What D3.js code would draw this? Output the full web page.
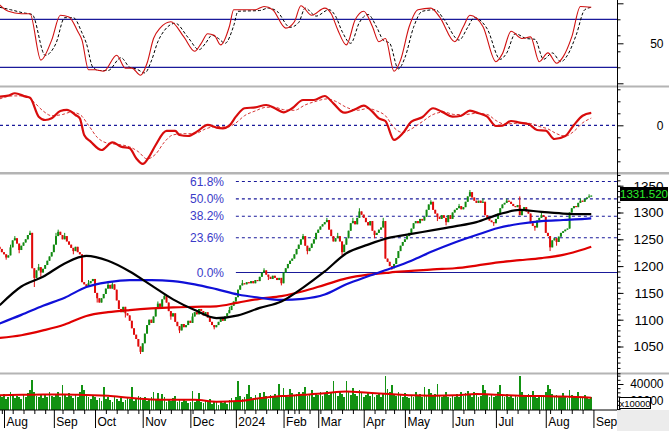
<!DOCTYPE html>
<html><head><meta charset="utf-8">
<script src="https://cdn.jsdelivr.net/npm/d3@7"></script>
<style>
html,body{margin:0;padding:0;background:#fff;}
svg{display:block;font-family:"Liberation Sans",Arial,sans-serif;}
</style></head><body>
<svg id="c" width="669" height="431"></svg>
<script>
// ---------------- DATA ----------------
const holidays = ["2023-09-01","2023-09-04","2024-01-01","2024-02-08","2024-02-09","2024-02-12","2024-02-13","2024-02-14","2024-04-18","2024-04-29","2024-04-30","2024-05-01","2024-09-02","2024-09-03"];
const monthNames = ["Jan","Feb","Mar","Apr","May","Jun","Jul","Aug","Sep","Oct","Nov","Dec"];

const firstOpen = 1236;
const closes = [
 1232,1226,1222,1216,1220,1235,1248,1252,1242,1230,
 1238,1244,1250,1258,1262,1196,1178,1192,1198,1188,
 1195,1202,1210,1218,1226,1240,1256,1264,1258,1250,
 1256,1246,1240,1234,1228,1236,1226,1222,1170,1166,
 1162,1168,1172,1176,1150,1140,1132,1140,1148,1158,
 1165,1158,1166,1156,1136,1120,1114,1124,1112,1108,
 1098,1084,1072,1064,1050,1040,1056,1074,1090,1100,
 1094,1106,1120,1130,1124,1138,1144,1132,1116,1106,
 1112,1096,1088,1080,1092,1086,1090,1098,1094,1106,
 1114,1110,1120,1116,1108,1114,1104,1096,1090,1086,
 1090,1096,1102,1098,1106,1112,1118,1126,1134,1142,
 1156,1164,1168,1166,1170,1168,1172,1168,1174,1172,
 1180,1188,1192,1184,1180,1176,1182,1178,1174,1178,
 1168,1188,1196,1204,1210,1214,1222,1232,1240,1250,
 1256,1238,1228,1234,1242,1250,1262,1268,1274,1278,
 1282,1286,1268,1256,1246,1252,1256,1246,1226,1240,
 1252,1266,1280,1284,1278,1290,1302,1296,1290,1282,
 1276,1284,1266,1258,1262,1268,1272,1284,1214,1208,
 1200,1196,1204,1215,1228,1238,1245,1250,1256,1262,
 1270,1280,1284,1280,1288,1285,1292,1305,1315,1320,
 1305,1298,1292,1288,1295,1290,1282,1295,1288,1300,
 1305,1308,1312,1306,1310,1320,1330,1338,1328,1322,
 1318,1322,1318,1320,1295,1290,1285,1282,1280,1288,
 1298,1308,1315,1318,1322,1320,1316,1312,1310,1314,
 1295,1305,1310,1302,1298,1280,1275,1272,1285,1290,
 1295,1292,1262,1256,1235,1248,1252,1245,1255,1262,
 1265,1268,1270,1300,1308,1312,1310,1318,1322,1320,
 1325,1328,1330,1331.52];
const highWicks = [[5,1240],[7,1256],[14,1266],[18,1204],[26,1262],[27,1268],[30,1262],[41,1174],[50,1170],[52,1170],[73,1134],[76,1148],[89,1112],[106,1124],[112,1174],[122,1196],[140,1260],[151,1290],[156,1262],[163,1290],[166,1308],[177,1290],[199,1323],[212,1316],[217,1342],[223,1326],[234,1326],[240,1330],[250,1300],[268,1326],[272,1334]];
const lowWicks = [[3,1212],[9,1224],[16,1161],[19,1180],[34,1222],[45,1132],[58,1104],[65,1036],[79,1100],[83,1075],[99,1082],[124,1174],[130,1164],[142,1222],[158,1220],[173,1252],[181,1193],[202,1284],[206,1276],[228,1275],[247,1266],[254,1228],[257,1238]];

const volumes = [
 26000,24000,28000,22000,25000,30000,27000,23000,26000,24000,
 22000,27000,25000,29000,33000,45000,30000,26000,24000,28000,
 23000,27000,25000,30000,26000,24000,28000,31000,25000,39000,
 27000,24000,29000,26000,23000,28000,25000,30000,39000,33000,
 28000,25000,22000,26000,24000,21000,23000,20000,37000,22000,
 25000,21000,19000,24000,22000,20000,23000,18000,21000,24000,
 22000,36000,20000,23000,26000,25000,21000,24000,20000,22000,
 25000,31000,22000,29000,21000,28000,24000,19000,22000,20000,
 23000,26000,18000,21000,19000,22000,20000,17000,19000,32000,
 18000,21000,29000,19000,17000,20000,18000,22000,16000,19000,
 18000,15000,20000,17000,19000,16000,21000,23000,20000,25000,
 43000,26000,22000,24000,28000,39000,25000,21000,27000,23000,
 29000,24000,30000,26000,22000,27000,25000,28000,24000,40000,
 26000,35000,27000,25000,34000,29000,26000,28000,31000,27000,
 30000,37000,26000,28000,33000,25000,29000,27000,31000,26000,
 28000,32000,27000,30000,43000,29000,26000,31000,28000,25000,
 43000,30000,27000,35000,28000,26000,33000,29000,25000,27000,
 30000,26000,28000,24000,27000,29000,25000,28000,49000,34000,
 30000,39000,28000,26000,31000,27000,24000,29000,25000,23000,
 27000,24000,30000,26000,28000,25000,36000,27000,34000,29000,
 26000,28000,40000,27000,24000,26000,30000,25000,23000,27000,
 25000,28000,24000,30000,26000,29000,32000,27000,25000,31000,
 28000,24000,26000,39000,33000,28000,25000,27000,24000,26000,
 30000,39000,27000,25000,28000,24000,26000,23000,27000,25000,
 49000,30000,26000,24000,28000,25000,32000,27000,23000,26000,
 24000,27000,31000,39000,34000,28000,25000,27000,24000,26000,
 29000,25000,23000,33000,27000,24000,26000,31000,25000,23000,
 27000,24000,22000,25000];

// moving averages sampled every 10 sessions
const maIdx   = [0,10,20,30,40,50,60,70,80,90,100,110,120,130,140,150,160,170,180,190,200,210,220,230,240,250,260,270,273];
const ma50    = [1127,1162,1180,1205,1219,1210,1190,1164,1138,1118,1103,1108,1122,1134,1160,1190,1224,1240,1253,1260,1267,1274,1282,1296,1305,1301,1298,1297,1297];
const ma100   = [1093,1109,1126,1141,1161,1170,1174,1174,1172,1166,1157,1147,1141,1137,1139,1147,1166,1181,1195,1210,1228,1244,1258,1271,1279,1284,1286,1288,1289];
const ma200   = [1066,1071,1080,1091,1107,1114,1118,1121,1123,1124,1125,1132,1139,1144,1153,1165,1177,1184,1188,1191,1194,1196,1201,1207,1211,1215,1221,1232,1236];
const volMA   = [26500,27000,27500,27500,26800,26000,23500,21500,21000,21000,18800,19500,23000,25500,27000,29000,31000,29500,28000,26500,26000,26500,28000,27000,26000,25500,25000,24000,23500];

// stochastic [session, value]
const stochK = [[0,98],[4,90],[10,87],[14,87],[19,29],[24,54],[28,85],[32,83],[36,65],[38,54],[41,17],[44,17],[48,15],[54,35],[58,19],[61,19],[65,10],[68,25],[71,56],[74,69],[79,77],[85,58],[90,40],[93,50],[96,62],[99,60],[102,48],[106,71],[108,92],[118,92],[122,96],[126,92],[132,69],[136,77],[139,97],[144,85],[150,94],[153,87],[156,67],[160,48],[164,79],[168,90],[172,71],[175,52],[178,56],[182,15],[185,29],[189,71],[193,92],[199,94],[203,83],[210,52],[214,71],[217,85],[223,71],[229,27],[232,37],[236,65],[241,56],[245,58],[249,27],[253,38],[257,25],[260,33],[264,58],[268,96],[273,95]];
const stochD = [[0,95],[5,92],[11,88],[15,86],[21,35],[26,50],[30,82],[34,82],[38,63],[40,50],[43,20],[46,16],[50,16],[56,32],[60,20],[63,18],[67,13],[70,28],[73,52],[76,66],[81,75],[87,57],[92,42],[95,50],[98,60],[101,56],[104,50],[108,72],[110,90],[120,91],[124,94],[128,90],[134,70],[138,76],[141,94],[146,84],[152,92],[155,84],[158,65],[162,50],[166,76],[170,86],[174,70],[177,54],[180,50],[184,18],[187,32],[191,70],[195,90],[201,92],[205,80],[212,54],[216,70],[219,82],[225,68],[231,30],[234,38],[238,62],[243,56],[247,55],[251,30],[255,38],[259,27],[262,35],[266,60],[270,92],[273,95]];

// MACD [session, value]
const macd = [[0,23.9],[4,24.7],[7,26.7],[12,23.9],[14,23.0],[18,7.2],[21,4.4],[24,5.8],[28,11.9],[31,12.8],[35,8.6],[37,5.8],[39,-8.1],[42,-13.6],[47,-20.6],[52,-14.2],[56,-17.8],[60,-19.2],[63,-27.5],[66,-32.2],[69,-26.1],[72,-16.4],[77,-4.7],[81,-4.7],[83,-8.1],[87,-8.9],[91,-5.3],[96,0.3],[100,-1.9],[103,-2.5],[106,-0.3],[109,7.2],[113,14.2],[118,15.0],[123,16.9],[127,14.2],[131,10.8],[135,14.2],[140,21.1],[145,21.1],[150,24.4],[154,18.3],[159,10.5],[164,13.3],[168,16.4],[172,11.4],[175,5.8],[178,3.6],[182,-12.2],[186,-6.7],[190,3.0],[195,6.7],[200,14.2],[204,11.4],[209,7.2],[213,8.0],[217,12.2],[221,10.0],[225,7.2],[229,-0.6],[232,-0.3],[236,3.6],[240,2.2],[244,1.1],[248,-3.9],[252,-4.4],[256,-11.4],[261,-8.9],[265,0.3],[269,8.0],[273,10.3]];
const macdSignal = [[0,22],[6,24.5],[12,24.5],[16,19],[20,12],[24,8],[29,9],[33,11],[37,9],[41,0],[45,-10],[50,-15],[55,-16],[60,-18],[64,-22],[68,-28],[72,-24],[76,-14],[80,-8],[85,-7],[90,-7],[95,-3],[100,-1],[105,-1.5],[109,2],[113,8],[118,12],[123,15],[127,15],[131,13],[136,12.5],[141,17],[146,20],[151,22],[155,20],[160,15],[165,12.5],[170,14],[174,12],[178,8],[182,-2],[186,-6],[190,-3],[195,3],[200,9],[205,11],[210,9],[215,9],[220,10],[225,9],[229,4],[233,1],[237,1.5],[241,2],[245,1.5],[249,-1],[253,-3],[257,-7],[261,-9],[265,-5],[269,2],[273,6]];

// Fibonacci retracement
const fibLabels = ["61.8%","50.0%","38.2%","23.6%","0.0%"];
const fibRatios = [0.618,0.5,0.382,0.236,0];
const fibBase = 1188, fibTop = 1463;
const fibStart = 109;

const priceTicks = [1050,1100,1150,1200,1250,1300,1350];
const stochTicks = [50];
const macdTicks = [0];
const volTicks = [20000,40000];
const lastLabel = "1331.520";

// ---------------- LAYOUT ----------------
const svg = d3.select("#c");
const AX = 617;
const step = 2.167, xOff = -0.33;
const x = d3.scaleLinear().domain([0, 273]).range([xOff, xOff + 273*step]);

const yS = d3.scaleLinear().domain([0,100]).range([83.3,3.3]);
const yM = d3.scaleLinear().domain([0,10]).range([125.3,113.3]);
const yP = d3.scaleLinear().domain([1050,1300]).range([346.5,212.5]);
const yV = d3.scaleLinear().domain([20000,40000]).range([400.7,384]);
const volBase = 409.5;
const fmt = d3.format("d");

// trading calendar
const days = [];
for (let t = Date.UTC(2023,6,28); t <= Date.UTC(2024,8,4); t += 86400000) {
  const d = new Date(t); const wd = d.getUTCDay();
  if (wd === 0 || wd === 6) continue;
  if (holidays.includes(d.toISOString().slice(0,10))) continue;
  days.push(d);
}
const monthIdx = [], weekIdx = [];
for (let i = 1; i < days.length; i++) {
  const a = days[i-1], b = days[i];
  if (a.getUTCMonth() !== b.getUTCMonth()) monthIdx.push(i);
  else if (b.getUTCDay() < a.getUTCDay() || (b - a) >= 7*86400000) weekIdx.push(i);
}

const defs = svg.append("defs");
function clip(id, y0, h) {
  defs.append("clipPath").attr("id", id).append("rect").attr("x",0).attr("y",y0).attr("width",AX).attr("height",h);
  return svg.append("g").attr("clip-path", `url(#${id})`);
}

// separators
[[85.5,2],[172,2.5],[372.5,2]].forEach(([y,h]) => {
  svg.append("rect").attr("x",0).attr("y",y).attr("width",669).attr("height",h).attr("fill","#b4b4b4");
});
svg.append("rect").attr("x",AX).attr("y",410).attr("width",669-AX).attr("height",21).attr("fill","#ececec");

// ---------- Stochastic ----------
const gS = clip("cs", 0, 85.5);
[80,20].forEach(v => gS.append("line").attr("x1",0).attr("x2",AX).attr("y1",yS(v)).attr("y2",yS(v)).attr("stroke","#1a1a9a").attr("stroke-width",1.2));
const lS = d3.line().x(d=>x(d[0])).y(d=>yS(d[1])).curve(d3.curveMonotoneX);
gS.append("path").attr("d", lS(stochD)).attr("fill","none").attr("stroke","#000").attr("stroke-width",1).attr("stroke-dasharray","3,2");
gS.append("path").attr("d", lS(stochK)).attr("fill","none").attr("stroke","#d01010").attr("stroke-width",1.1);

// ---------- MACD ----------
const gM = clip("cm", 87.5, 84.5);
gM.append("line").attr("x1",0).attr("x2",AX).attr("y1",yM(0)).attr("y2",yM(0)).attr("stroke","#1a1a9a").attr("stroke-width",1.2).attr("stroke-dasharray","3,3");
const lM = d3.line().x(d=>x(d[0])).y(d=>yM(d[1])).curve(d3.curveMonotoneX);
gM.append("path").attr("d", lM(macdSignal)).attr("fill","none").attr("stroke","#d02020").attr("stroke-width",0.9).attr("stroke-dasharray","3,2");
gM.append("path").attr("d", lM(macd)).attr("fill","none").attr("stroke","#d80c0c").attr("stroke-width",2.2);

// ---------- Price ----------
const gP = clip("cp", 174.5, 198);
const fibVals = fibRatios.map(r => fibBase + r*(fibTop-fibBase));
fibVals.forEach((v,k) => {
  gP.append("line").attr("x1",x(fibStart)).attr("x2",AX).attr("y1",yP(v)).attr("y2",yP(v))
    .attr("stroke","#1a1a9a").attr("stroke-width",1.1).attr("stroke-dasharray", fibRatios[k]===0 ? null : "3,3");
  gP.append("text").attr("x",224).attr("y",yP(v)).attr("dy","0.35em").attr("text-anchor","end")
    .attr("font-size",12).attr("fill","#3a3ac8").text(fibLabels[k]);
});
const lP = d3.line().x((d,k)=>x(maIdx[k])).y(d=>yP(d)).curve(d3.curveMonotoneX);
const hiMap = new Map(highWicks), loMap = new Map(lowWicks);
const candles = closes.map((c,i) => {
  const o = i === 0 ? firstOpen : closes[i-1];
  return {i, o, c, h: hiMap.get(i) ?? Math.max(o,c), l: loMap.get(i) ?? Math.min(o,c)};
});
const gCand = gP.append("g");
gCand.selectAll("line").data(candles).join("line")
  .attr("x1",d=>x(d.i)).attr("x2",d=>x(d.i)).attr("y1",d=>yP(d.h)).attr("y2",d=>yP(d.l))
  .attr("stroke",d=>d.c>=d.o?"#108a10":"#e00a0a").attr("stroke-width",1);
gCand.selectAll("rect").data(candles).join("rect")
  .attr("x",d=>x(d.i)-1).attr("width",2)
  .attr("y",d=>yP(Math.max(d.o,d.c))).attr("height",d=>Math.max(1, yP(Math.min(d.o,d.c))-yP(Math.max(d.o,d.c))))
  .attr("fill",d=>d.c>=d.o?"#108a10":"#e00a0a");
gP.append("path").attr("d", lP(ma200)).attr("fill","none").attr("stroke","#e00000").attr("stroke-width",2.2);
gP.append("path").attr("d", lP(ma100)).attr("fill","none").attr("stroke","#1010d8").attr("stroke-width",2.2);
gP.append("path").attr("d", lP(ma50)).attr("fill","none").attr("stroke","#000").attr("stroke-width",2.2);

// ---------- Volume ----------
const gV = clip("cv", 374.5, 35.5);
gV.selectAll("rect").data(volumes).join("rect")
  .attr("x",(d,i)=>x(i)-0.85).attr("width",1.7)
  .attr("y",d=>yV(d)).attr("height",d=>volBase-yV(d))
  .attr("fill","#129212").attr("shape-rendering","crispEdges");
const lV = d3.line().x((d,k)=>x(maIdx[k])).y(d=>yV(d)).curve(d3.curveMonotoneX);
gV.append("path").attr("d", lV(volMA)).attr("fill","none").attr("stroke","#e00000").attr("stroke-width",2);

// ---------- Right axes ----------
svg.append("line").attr("x1",AX+0.5).attr("x2",AX+0.5).attr("y1",0).attr("y2",410).attr("stroke","#000");
function rightAxis(scale, minor, major, labels, fs) {
  const g1 = svg.append("g").attr("transform",`translate(${AX+0.5},0)`)
    .call(d3.axisRight(scale).tickValues(minor).tickSize(3).tickFormat(""));
  g1.select(".domain").remove();
  const g2 = svg.append("g").attr("transform",`translate(${AX+0.5},0)`)
    .call(d3.axisRight(scale).tickValues(major).tickSize(6).tickFormat(""));
  g2.select(".domain").remove();
  const g3 = svg.append("g").attr("transform",`translate(${AX+0.5},0)`)
    .call(d3.axisRight(scale).tickValues(labels).tickSize(0).tickPadding(0).tickFormat(fmt));
  g3.select(".domain").remove();
  g3.selectAll("text").attr("x",46).attr("text-anchor","end").attr("font-size",fs).attr("font-family","Liberation Sans, Arial, sans-serif").attr("fill","#000");
  return g3;
}
rightAxis(yS, [20,40,60,80], [0,50,100], stochTicks, 12);
rightAxis(yM, [-30,-20,-10,10,20,30], [0], macdTicks, 12);
rightAxis(yP, d3.range(1000,1371,10), priceTicks, priceTicks, 13.5);
rightAxis(yV, [10000,15000,25000,30000,35000,45000,50000], [20000,40000], volTicks, 12);

// last price box
svg.append("rect").attr("x",620).attr("y",187).attr("width",48).attr("height",14).attr("fill","#000");
svg.append("text").attr("x",644).attr("y",194).attr("dy","0.36em").attr("text-anchor","middle")
  .attr("font-size",11.5).attr("fill","#2cf02c").text(lastLabel);

// x10000 box
svg.append("rect").attr("x",619.5).attr("y",397.5).attr("width",31).attr("height",11).attr("fill","#fff").attr("stroke","#000").attr("stroke-width",1);
svg.append("text").attr("x",635).attr("y",403.2).attr("dy","0.35em").attr("text-anchor","middle").attr("font-size",9.5).attr("fill","#000").text("x10000");

// ---------- X axis ----------
svg.append("line").attr("x1",0).attr("x2",AX).attr("y1",410).attr("y2",410).attr("stroke","#000");
const gw = svg.append("g").attr("transform","translate(0,410)")
  .call(d3.axisBottom(x).tickValues(weekIdx.filter(i=>i<=274)).tickSize(4).tickFormat(""));
gw.select(".domain").remove();
const gx = svg.append("g").attr("transform","translate(0,410)")
  .call(d3.axisBottom(x).tickValues(monthIdx.filter(i=>i<=274)).tickSize(18)
    .tickFormat(i => { const d = days[i]; return d.getUTCMonth()===0 ? String(d.getUTCFullYear()) : monthNames[d.getUTCMonth()]; }));
gx.select(".domain").remove();
gx.selectAll("text").attr("x",2).attr("y",15.5).attr("dy",0).attr("text-anchor","start")
  .attr("font-size",12).attr("font-family","Liberation Sans, Arial, sans-serif").attr("fill","#000");
</script>
</body></html>
